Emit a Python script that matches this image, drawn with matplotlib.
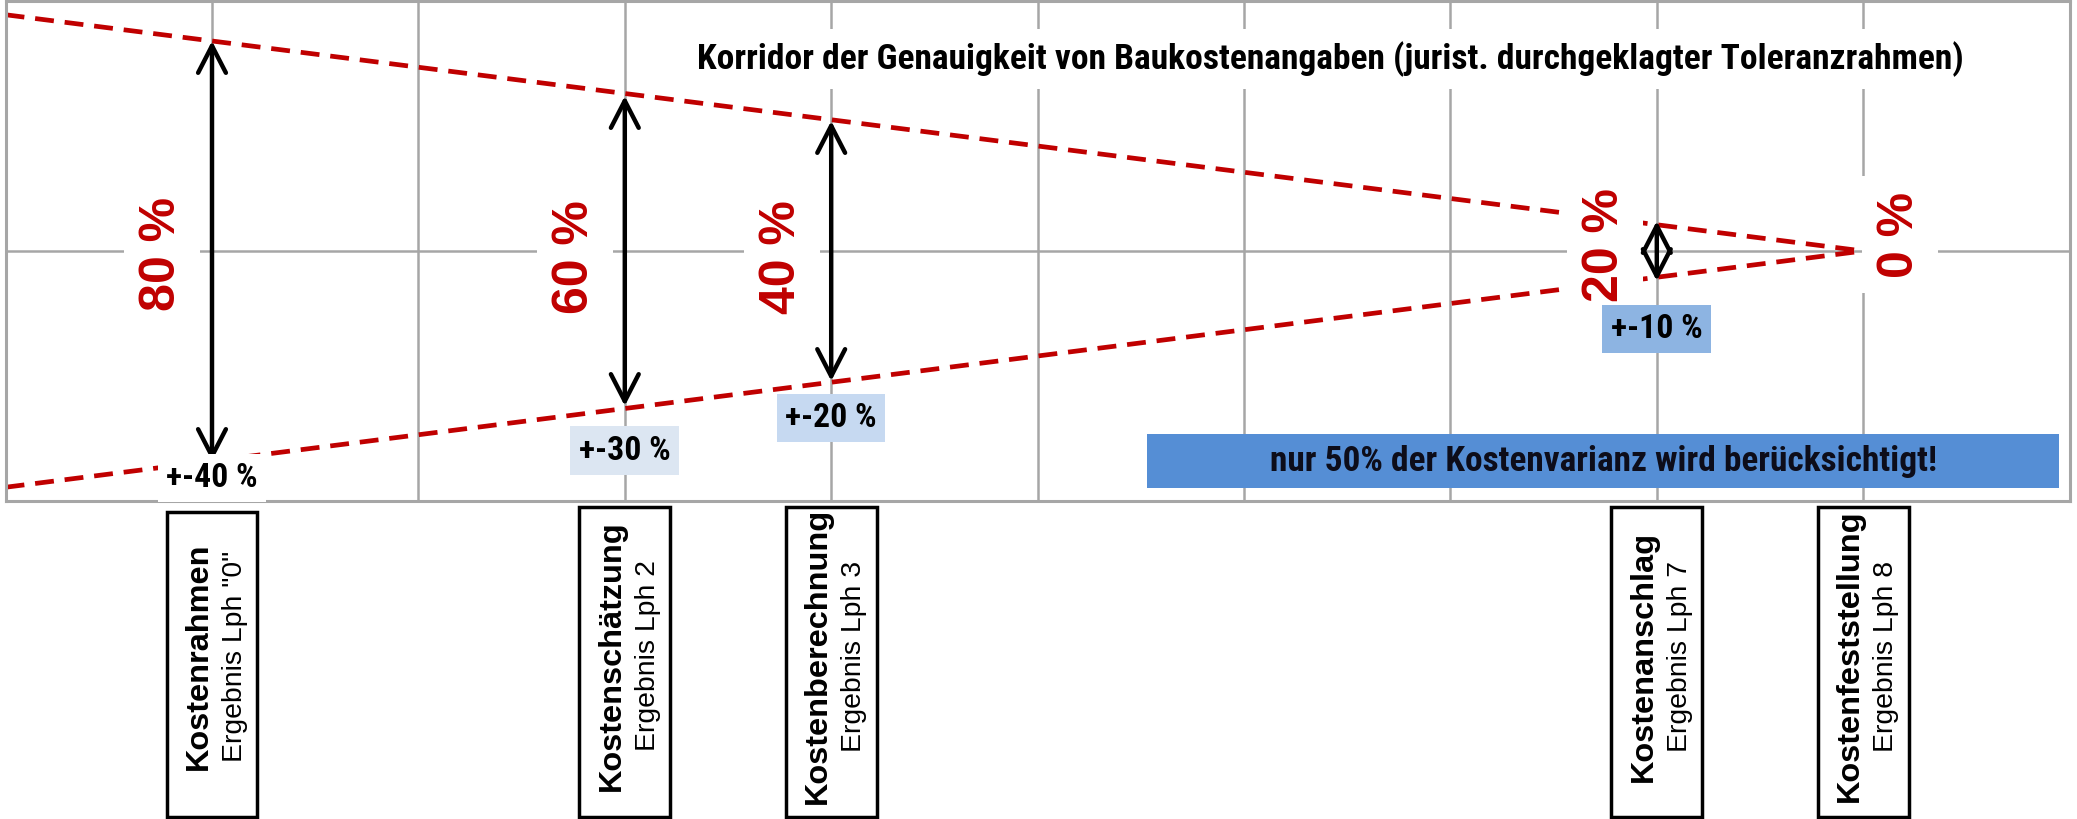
import matplotlib
matplotlib.use("Agg")
import matplotlib.pyplot as plt
from matplotlib import font_manager as fm
from matplotlib.patches import FancyArrowPatch, Rectangle
from matplotlib.transforms import blended_transform_factory

# Daten
phasen = ['Kostenrahmen', 'Kostenschätzung', 'Kostenberechnung', 'Kostenanschlag', 'Kostenfeststellung']
phasen_sub = ['Ergebnis Lph "0"', 'Ergebnis Lph 2', 'Ergebnis Lph 3', 'Ergebnis Lph 7', 'Ergebnis Lph 8']
phasen_x = [1, 3, 4, 8, 9]
korridor_pct = [80, 60, 40, 20, 0]
toleranz_pct = [40, 30, 20, 10]
pfeil_halb = [84, 62, 52, 12]
korridor_x = [0, 9]
korridor_oben = [94.5, 0]
korridor_unten = [-94.5, 0]

titel = 'Korridor der Genauigkeit von Baukostenangaben (jurist. durchgeklagter Toleranzrahmen)'
hinweis = 'nur 50% der Kostenvarianz wird berücksichtigt!'

# Layout
pct_dx = [-0.24, -0.24, -0.24, -0.25, 0.18]
pct_dy = [-1.2, -2.4, -2.6, 2.4, 6.6]
tol_y = [-90.8, -79.8, -66.8, -31.2]
tol_farben = ['white', '#dce6f2', '#c6d9f1', '#8db4e2']

rot = '#c00000'
grau = '#a6a6a6'

# schmale Schrift suchen (Ersatz für Arial Narrow)
prio = ['Liberation Sans Narrow', 'Arial Narrow', 'Roboto Condensed', 'Noto Sans', 'Roboto',
        'Open Sans', 'Lato', 'Inter', 'DejaVu Sans']
dehn_rang = {'condensed': 0, 'semi-condensed': 1, 'extra-condensed': 2}
schmal, dehnung = 'Liberation Sans', 'normal'
beste = None
for f in fm.fontManager.ttflist:
    if any(w in f.name for w in ('Mono', 'CJK', 'Serif', 'Symbol', 'Math')):
        continue
    if f.weight not in (700, 'bold'):
        continue
    narrow = 'Narrow' in f.name
    if f.stretch not in dehn_rang and not narrow:
        continue
    for i, p in enumerate(prio):
        if f.name.startswith(p):
            rang = (i, dehn_rang.get(f.stretch, 0))
            if beste is None or rang < beste[0]:
                beste = (rang, f.name, f.stretch if f.stretch in dehn_rang else 'normal')
            break
if beste:
    schmal, dehnung = beste[1], beste[2]
breit = 'Liberation Sans'

fig = plt.figure(figsize=(20.77, 8.19), dpi=100)
ax = fig.add_axes([5.6 / 2077, 1 - 501 / 819, 2064 / 2077, 500 / 819])
ax.set_xlim(0, 10)
ax.set_ylim(-100, 100)

# Raster
ax.set_xticks(range(11))
ax.set_yticks([0])
ax.tick_params(length=0, labelbottom=False, labelleft=False)
ax.set_axisbelow(True)
ax.grid(True, color=grau, lw=1.8)
for s in ax.spines.values():
    s.set_color(grau)
    s.set_linewidth(2.2)

# Korridor
for ys in (korridor_oben, korridor_unten):
    ax.plot(korridor_x, ys, color=rot, lw=3.4, ls=(0, (4, 2.3)), zorder=2, solid_capstyle='butt')

# Prozent-Beschriftungen
for x, p, dx, dy in zip(phasen_x, korridor_pct, pct_dx, pct_dy):
    ax.text(x + dx, dy, f'{p} %', rotation=90, ha='center', va='center', color=rot,
            fontsize=36, fontweight='bold', family=breit, zorder=3,
            bbox=dict(boxstyle='square,pad=0.3', facecolor='white', edgecolor='none'))

# Pfeile
for x, h in zip(phasen_x, pfeil_halb):
    pf = FancyArrowPatch((x, h), (x, -h), arrowstyle='<->,head_length=0.97,head_width=0.5',
                         mutation_scale=20, lw=3.2, color='black', shrinkA=0, shrinkB=0,
                         zorder=4)
    ax.add_patch(pf)

schmal_texte = []  # (Text, Zielbreite in px)

# Toleranzen
for x, t, y, c in zip(phasen_x, toleranz_pct, tol_y, tol_farben):
    tx = ax.text(x, y, f'+-{t} %', ha='center', va='center', fontsize=25, fontweight='bold',
                 family=schmal, fontstretch=dehnung, color='black', zorder=6,
                 bbox=dict(boxstyle='square,pad=0.25', facecolor=c, edgecolor='none'))
    schmal_texte.append((tx, 92))

# Titel
tx = ax.text(6.42, 76.8, titel, ha='center', va='center', fontsize=23.5, fontweight='bold',
             family=schmal, fontstretch=dehnung, color='black', zorder=3,
             bbox=dict(boxstyle='square,pad=0.35', facecolor='white', edgecolor='none'))
schmal_texte.append((tx, 1264))

# Hinweisbalken
ax.add_patch(Rectangle((5.53, -94.8), 9.95 - 5.53, 94.8 - 73.2, facecolor='#558ed5',
                       edgecolor='none', zorder=5))
tx = ax.text((5.53 + 9.95) / 2, -84, hinweis, ha='center', va='center', fontsize=23,
             fontweight='bold', family=schmal, fontstretch=dehnung, color='#0d0d1a', zorder=6)
schmal_texte.append((tx, 670))

# Phasen-Kästen unter der Achse
tr = blended_transform_factory(ax.transData, ax.transAxes)
for i, (x, name, sub) in enumerate(zip(phasen_x, phasen, phasen_sub)):
    oben = -0.022 if i == 0 else -0.012
    unten = -0.632
    ax.add_patch(Rectangle((x - 0.22, unten), 0.44, oben - unten, transform=tr,
                           facecolor='white', edgecolor='black', lw=2.5, clip_on=False, zorder=5))
    ax.text(x - 0.063, -0.31, name, transform=tr, rotation=90, ha='center', va='center',
            fontsize=23.4, fontweight='bold', family=breit, clip_on=False, zorder=6)
    ax.text(x + 0.111, -0.31, sub, transform=tr, rotation=90, ha='center', va='center',
            fontsize=20.4, family=breit, clip_on=False, zorder=6)

# Schriftgröße der schmalen Texte an die Breite im Original anpassen
fig.canvas.draw()
r = fig.canvas.get_renderer()
for tx, ziel in schmal_texte:
    b = tx.get_window_extent(r)
    tx.set_fontsize(tx.get_fontsize() * ziel / b.width)

fig.savefig('out.png', dpi=100, facecolor='white')
